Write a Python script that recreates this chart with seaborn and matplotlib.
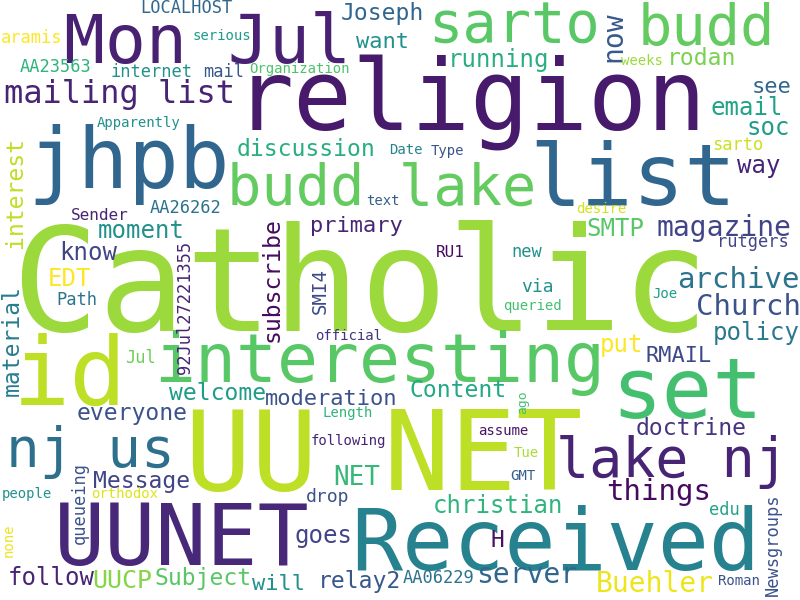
import matplotlib
matplotlib.use("Agg")
import matplotlib.pyplot as plt
import seaborn as sns
import pandas as pd

words = ["Catholic", "religion", "UU NET", "Received", "jhpb", "list", "id", "set",
         "UUNET", "Mon Jul", "interesting", "sarto", "budd", "budd lake", "lake nj",
         "nj us", "mailing list", "now", "things", "archive", "Church", "server",
         "Buehler", "magazine", "NET", "UUCP", "discussion", "running", "rodan",
         "email", "soc", "see", "way", "interest", "moment", "primary", "know", "EDT",
         "subscribe", "material", "welcome", "moderation", "Content", "everyone",
         "Message", "goes", "follow", "Subject", "will", "relay2", "christian",
         "doctrine", "H", "policy", "put", "RMAIL", "SMTP", "Joseph", "want",
         "92Jul27221355", "SMI4", "queueing", "Newsgroups", "LOCALHOST", "aramis",
         "AA23563", "internet", "mail", "AA26262", "Sender", "Path", "Jul", "sarto",
         "rutgers", "AA06229", "drop", "edu", "new", "via", "RU1", "serious",
         "Organization", "Apparently", "Date", "Type", "weeks", "text", "official",
         "Length", "following", "people", "orthodox", "assume", "Tue", "GMT", "Roman",
         "desire", "Joe", "queried", "none", "ago"]
sizes = [145, 98, 110, 85, 84, 86, 95, 84, 85, 68, 68, 57, 57, 57, 55, 56, 32, 28,
         29, 29, 29, 28, 28, 28, 26, 25, 23, 24, 23, 24, 24, 22, 24, 23, 24, 22, 24,
         24, 23, 23, 23, 22, 23, 23, 23, 24, 24, 23, 22, 23, 24, 23, 23, 24, 24, 22,
         24, 23, 22, 17, 19, 17, 17, 17, 17, 17, 17, 17, 17, 16, 17, 17, 17, 17, 17,
         18, 17, 17, 18, 16, 14, 14, 14, 14, 14, 14, 14, 14, 14, 14, 14, 14, 14, 14,
         14, 14, 14, 14, 14, 14, 13]
xs = [360, 471, 384, 556, 129, 633, 70, 687, 182, 207, 380, 514, 706, 382, 672,
      90, 119, 613, 659, 738, 748, 527, 655, 724, 357, 122, 306, 498, 702, 747, 768,
      772, 759, 16, 141, 356, 88, 69, 272, 12, 218, 331, 458, 132, 142, 323, 51,
      203, 278, 360, 498, 691, 497, 756, 622, 679, 615, 382, 383, 185, 320, 80, 773,
      186, 32, 56, 151, 224, 186, 100, 77, 141, 738, 753, 439, 328, 724, 527, 537,
      450, 222, 300, 139, 406, 447, 642, 383, 349, 348, 348, 27, 125, 503, 526, 523,
      739, 601, 665, 532, 9, 523]
ys = [331, 130, 490, 570, 188, 205, 405, 418, 565, 63, 382, 43, 45, 205, 477,
      467, 103, 37, 500, 288, 315, 583, 592, 236, 485, 588, 156, 67, 65, 115, 135,
      93, 173, 193, 238, 232, 260, 286, 280, 340, 400, 405, 397, 420, 488, 543, 585,
      585, 590, 588, 513, 435, 547, 340, 352, 362, 236, 20, 48, 307, 291, 503, 545,
      13, 43, 72, 77, 77, 213, 220, 305, 363, 150, 247, 583, 502, 515, 257, 292,
      257, 40, 73, 127, 154, 155, 65, 205, 340, 417, 445, 498, 498, 435, 457, 480,
      585, 213, 298, 310, 540, 402]
vertical = [0, 0, 0, 0, 0, 0, 0, 0, 0, 0, 0, 0, 0, 0, 0, 0, 0, 1, 0, 0, 0, 0, 0,
            0, 0, 0, 0, 0, 0, 0, 0, 0, 0, 1, 0, 0, 0, 0, 1, 1, 0, 0, 0, 0, 0, 0, 0,
            0, 0, 0, 0, 0, 0, 0, 0, 0, 0, 0, 0, 1, 1, 1, 1, 0, 0, 0, 0, 0, 0, 0, 0,
            0, 0, 0, 0, 0, 0, 0, 0, 0, 0, 0, 0, 0, 0, 0, 0, 0, 0, 0, 0, 0, 0, 0, 0,
            0, 0, 0, 0, 1, 1]
tones = [0.85, 0.07, 0.9, 0.44, 0.33, 0.33, 0.9, 0.7, 0.11, 0.09, 0.74, 0.74,
         0.76, 0.76, 0.1, 0.36, 0.1, 0.27, 0.03, 0.38, 0.25, 0.33, 0.97, 0.2, 0.67,
         0.82, 0.63, 0.63, 0.8, 0.58, 0.55, 0.33, 0.1, 0.9, 0.5, 0.1, 0.2, 1.0, 0.03,
         0.42, 0.55, 0.25, 0.6, 0.25, 0.2, 0.2, 0.1, 0.74, 0.5, 0.27, 0.65, 0.15,
         0.05, 0.4, 1.0, 0.22, 0.74, 0.33, 0.5, 0.1, 0.22, 0.25, 0.25, 0.33, 1.0,
         0.65, 0.5, 0.27, 0.38, 0.1, 0.38, 0.78, 0.92, 0.2, 0.38, 0.25, 0.58, 0.5,
         0.5, 0.03, 0.55, 0.72, 0.5, 0.45, 0.25, 0.85, 0.3, 0.15, 0.65, 0.1, 0.5,
         0.95, 0.05, 0.87, 0.3, 0.25, 0.93, 0.55, 0.7, 0.97, 0.7]

df = pd.DataFrame({"word": words, "size": sizes, "x": xs, "y": ys,
                   "vertical": vertical, "tone": tones})

sns.set_theme(style="white")
cmap = sns.color_palette("viridis", as_cmap=True)

fig = plt.figure(figsize=(8, 6), dpi=100)
fig.patch.set_facecolor("white")
ax = fig.add_axes([0, 0, 1, 1])
ax.set_xlim(0, 800)
ax.set_ylim(600, 0)
ax.axis("off")

for r in df.itertuples():
    fs = r.size * 72 / 100
    if r.vertical:
        ax.text(r.x, r.y, r.word, fontsize=fs, family="DejaVu Sans Mono",
                color=cmap(r.tone), rotation=90, ha="center", va="center")
    else:
        ax.text(r.x, r.y, r.word, fontsize=fs, family="DejaVu Sans Mono",
                color=cmap(r.tone), ha="center", va="baseline")

fig.savefig("out.png", dpi=100, facecolor="white")
